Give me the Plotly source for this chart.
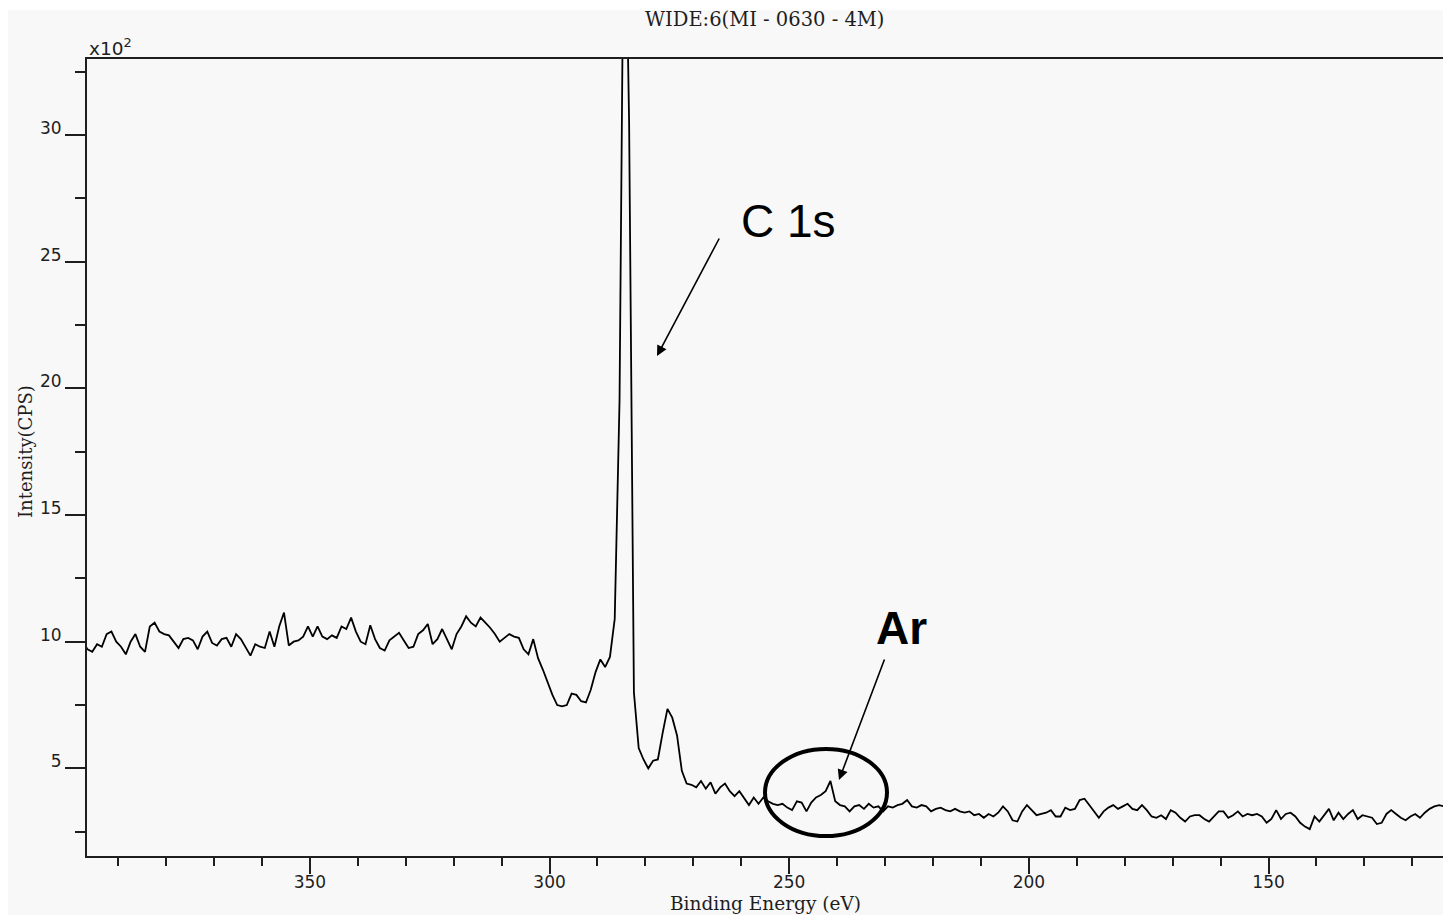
import plotly.graph_objects as go

# XPS wide scan, 1 eV step, intensity in units of 10^2 CPS
start_energy = 397.4
step_ev = 1.0
intensity = [
    10.0, 9.7, 9.6, 9.9, 9.8, 10.3, 10.4, 10.0, 9.8, 9.5,
    10.0, 10.3, 9.8, 9.6, 10.6, 10.75, 10.4, 10.3, 10.25, 10.0,
    9.75, 10.1, 10.15, 10.05, 9.7, 10.2, 10.4, 9.95, 9.85, 10.1,
    10.15, 9.8, 10.3, 10.1, 9.8, 9.45, 9.9, 9.8, 9.75, 10.4,
    9.8, 10.6, 11.15, 9.85, 10.0, 10.05, 10.2, 10.6, 10.2, 10.6,
    10.2, 10.1, 10.25, 10.15, 10.6, 10.5, 10.95, 10.4, 10.0, 9.9,
    10.65, 10.1, 9.75, 9.65, 10.05, 10.2, 10.35, 10.05, 9.75, 9.8,
    10.3, 10.45, 10.7, 9.9, 10.1, 10.5, 10.1, 9.7, 10.3, 10.6,
    11.0, 10.75, 10.6, 10.95, 10.75, 10.55, 10.3, 10.0, 10.15, 10.3,
    10.2, 10.15, 9.7, 9.5, 10.1, 9.35, 8.9, 8.4, 7.9, 7.5,
    7.45, 7.5, 7.95, 7.9, 7.65, 7.6, 8.1, 8.8, 9.3, 9.0,
    9.4, 10.9, 19.5, 42.0, 30.5, 8.0, 5.8, 5.35, 5.0, 5.3,
    5.35, 6.4, 7.35, 7.0, 6.3, 4.9, 4.4, 4.35, 4.25, 4.5,
    4.2, 4.45, 4.0, 4.25, 4.4, 4.1, 3.9, 4.1, 3.8, 3.55,
    3.85, 3.6, 3.85, 3.7, 3.6, 3.55, 3.6, 3.45, 3.35, 3.7,
    3.65, 3.3, 3.65, 3.85, 3.95, 4.1, 4.5, 3.7, 3.55, 3.5,
    3.3, 3.5, 3.55, 3.4, 3.6, 3.45, 3.5, 3.3, 3.5, 3.45,
    3.55, 3.6, 3.75, 3.5, 3.45, 3.55, 3.5, 3.3, 3.4, 3.45,
    3.35, 3.3, 3.4, 3.3, 3.25, 3.3, 3.15, 3.2, 3.05, 3.2,
    3.1, 3.25, 3.5, 3.3, 2.95, 2.9, 3.3, 3.55, 3.35, 3.15,
    3.2, 3.25, 3.35, 3.1, 3.1, 3.45, 3.35, 3.4, 3.75, 3.8,
    3.55, 3.3, 3.05, 3.3, 3.45, 3.55, 3.4, 3.5, 3.6, 3.4,
    3.35, 3.55, 3.35, 3.1, 3.05, 3.15, 3.0, 3.35, 3.25, 3.05,
    2.9, 3.1, 3.15, 3.15, 3.0, 2.9, 3.1, 3.3, 3.3, 3.05,
    3.15, 3.3, 3.1, 3.2, 3.15, 3.2, 3.1, 2.85, 3.0, 3.35,
    3.0, 3.2, 3.25, 3.1, 2.85, 2.7, 2.6, 3.1, 2.9, 3.15,
    3.4, 2.95, 3.25, 3.0, 3.2, 3.35, 3.0, 3.15, 3.1, 3.05,
    2.8, 2.85, 3.2, 3.35, 3.2, 3.05, 2.95, 3.1, 3.2, 3.05,
    3.25, 3.4, 3.5, 3.55, 3.5,
]
binding_energy = [round(start_energy - i * step_ev, 1) for i in range(len(intensity))]

x_ticks = [350, 300, 250, 200, 150]
y_ticks = [5, 10, 15, 20, 25, 30]

W, H = 1443, 915
L, R, T, B = 87, 1443, 59, 856
BG = "#f8f8f8"
INK = "#1e1e1e"


def px_x(px):
    return (px - L) / (R - L)


def px_y(py):
    return (B - py) / (B - T)


fig = go.Figure()
fig.add_trace(go.Scatter(
    x=binding_energy, y=intensity, mode="lines",
    line=dict(color="black", width=1.8), hoverinfo="skip", showlegend=False,
))

fig.update_layout(
    width=W, height=H,
    margin=dict(l=L, r=W - R, t=T, b=H - B, pad=0),
    paper_bgcolor=BG, plot_bgcolor=BG,
    showlegend=False,
    xaxis=dict(
        range=[396.5, 113.6], tickvals=x_ticks, ticktext=[str(v) for v in x_ticks],
        showgrid=False, zeroline=False,
        showline=True, linecolor=INK, linewidth=2, mirror=True,
        ticks="outside", ticklen=16, tickwidth=2, tickcolor=INK,
        minor=dict(dtick=10, tick0=0, ticks="outside", ticklen=8, tickwidth=2, tickcolor=INK),
        tickfont=dict(family="DejaVu Sans", size=17, color=INK),
        ticklabelstandoff=-6,
    ),
    yaxis=dict(
        range=[1.54, 33.0], tickvals=y_ticks, ticktext=[str(v) for v in y_ticks],
        showgrid=False, zeroline=False,
        showline=True, linecolor=INK, linewidth=2, mirror=False,
        ticks="outside", ticklen=20, tickwidth=2, tickcolor=INK,
        minor=dict(dtick=2.5, tick0=0, ticks="outside", ticklen=10, tickwidth=2, tickcolor=INK),
        tickfont=dict(family="DejaVu Sans", size=17, color=INK),
        ticklabelshift=-7,
    ),
)

# white border strips at the top and left of the frame
fig.add_shape(type="rect", xref="paper", yref="paper",
              x0=px_x(-5), x1=px_x(W + 5), y0=px_y(10), y1=px_y(-5),
              fillcolor="white", line=dict(width=0), layer="above")
fig.add_shape(type="rect", xref="paper", yref="paper",
              x0=px_x(-5), x1=px_x(8), y0=px_y(H + 5), y1=px_y(-5),
              fillcolor="white", line=dict(width=0), layer="above")

# circle around the Ar feature
fig.add_shape(type="circle", xref="paper", yref="paper",
              x0=px_x(765), x1=px_x(887), y0=px_y(836), y1=px_y(749),
              line=dict(color="black", width=4))

serif = "DejaVu Serif"
annotations = [
    dict(text="WIDE:6(MI - 0630 - 4M)", x=px_x(764), y=px_y(20),
         font=dict(family=serif, size=19.5, color=INK)),
    dict(text="Binding Energy (eV)", x=px_x(765), y=px_y(903),
         font=dict(family=serif, size=18.5, color=INK)),
    dict(text="Intensity(CPS)", x=px_x(25), y=px_y(452), textangle=-90,
         font=dict(family=serif, size=18, color=INK)),
    dict(text="x10<sup>2</sup>", x=px_x(87), y=px_y(47), xanchor="left",
         font=dict(family="DejaVu Sans", size=18.5, color=INK)),
    dict(text="C 1s", x=px_x(788), y=px_y(221),
         font=dict(family="Liberation Sans", size=46, color="black")),
    dict(text="<b>Ar</b>", x=px_x(902), y=px_y(628),
         font=dict(family="Liberation Sans", size=46, color="black")),
]
for a in annotations:
    a.setdefault("xanchor", "center")
    fig.add_annotation(xref="paper", yref="paper", yanchor="middle",
                       showarrow=False, **a)

# arrows pointing at the labelled peaks (tail offsets in pixels)
for head, tail in [((657, 356), (720, 237)), ((839, 780), (885, 658))]:
    fig.add_annotation(xref="paper", yref="paper", text="",
                       x=px_x(head[0]), y=px_y(head[1]),
                       ax=tail[0] - head[0], ay=tail[1] - head[1],
                       axref="pixel", ayref="pixel",
                       showarrow=True, arrowhead=2, arrowsize=1.3,
                       arrowwidth=1.6, arrowcolor="black")

fig.write_html("out.html")
